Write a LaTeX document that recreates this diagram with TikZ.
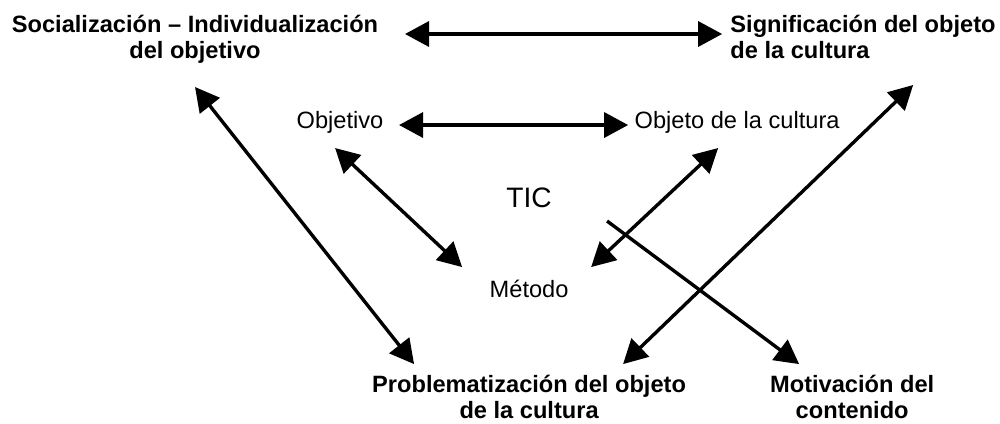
\documentclass[tikz,border=0pt]{standalone}
\usepackage{fontspec}
\setmainfont{Liberation Sans}
\usepackage{tikz}
\usetikzlibrary{arrows.meta,positioning}

\begin{document}
\begin{tikzpicture}[
    x=0.025cm, y=-0.025cm,
    heading/.style={font=\bfseries\fontsize{16.8}{18.2}\selectfont, align=center, inner sep=0pt},
    concept/.style={font=\fontsize{16.8}{18.2}\selectfont, inner sep=0pt},
    arrow/.style={<->, line width=2.4pt, >={Triangle[length=6mm, width=6.25mm]}}
]
\useasboundingbox (0,0) rectangle (1000,423);

% Outer triangle
\node[heading, anchor=base] (soc) at (195,58) {Socialización -- Individualización\\del objetivo};
\node[heading, align=left, right=13.375cm of soc.base, anchor=base west] (sig) {Significación del objeto\\de la cultura};

% Inner triangle
\node[concept, below right=1.75cm and 3.625cm of soc.base, anchor=base] (obj) {Objetivo};
\node[concept, right=9.925cm of obj.base, anchor=base] (cul) {Objeto de la cultura};
\node[concept, font=\fontsize{20}{24}\selectfont, below right=1.975cm and 4.725cm of obj.base, anchor=base] (tic) {TIC};
\node[concept, below=2.25cm of tic.base, anchor=base] (met) {Método};

% Bottom row
\node[heading, below=3.025cm of met.base, anchor=base] (prob) {Problematización del objeto\\de la cultura};
\node[heading, right=8.075cm of prob.base, anchor=base] (mot) {Motivación del\\contenido};

% Arrows
\draw[arrow] ([shift={(210,-24)}]soc.base) -- ([shift={(-8,-24)}]sig.base west);
\draw[arrow] ([shift={(59,-3)}]obj.base) -- ([shift={(-109,-3)}]cul.base);
\draw[arrow] ([shift={(-5,20)}]obj.base) -- ([shift={(-67,-30)}]met.base);
\draw[arrow] ([shift={(-19,20)}]cul.base) -- ([shift={(62,-30)}]met.base);
\draw[arrow] ([shift={(0,29)}]soc.base) -- ([shift={(-115,-54)}]prob.base);
\draw[arrow] ([shift={(183,27)}]sig.base west) -- ([shift={(94,-54)}]prob.base);
\draw[arrow, ->] ([shift={(78,14)}]tic.base) -- ([shift={(-53,-54)}]mot.base);

\end{tikzpicture}
\end{document}
